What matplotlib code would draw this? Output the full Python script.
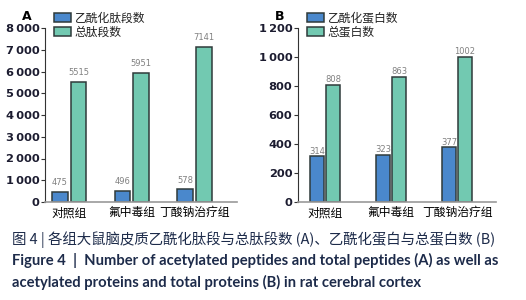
import matplotlib
matplotlib.use("Agg")
import matplotlib.pyplot as plt
from matplotlib.ticker import FuncFormatter
import numpy as np

plt.rcParams['font.family'] = ['Noto Sans CJK SC', 'DejaVu Sans']

groups = ['对照组', '氟中毒组', '丁酸钠治疗组']
acetyl_peptides = [475, 496, 578]
total_peptides = [5515, 5951, 7141]
acetyl_proteins = [314, 323, 377]
total_proteins = [808, 863, 1002]

blue = '#4a88cc'
green = '#72c9b1'
edge = '#2f3a3a'
W, H = 526, 300

fig = plt.figure(figsize=(W / 100, H / 100), dpi=100)


def thou(v, pos):
    v = int(round(v))
    if v >= 1000:
        return f"{v // 1000}\u2009{v % 1000:03d}"
    return str(v)


def panel(rect, a, b, ymax, step, labels, letter, bw, off, pad, xlim):
    ax = fig.add_axes([rect[0] / W, 1 - rect[3] / H, (rect[2] - rect[0]) / W,
                       (rect[3] - rect[1]) / H])
    x = np.arange(len(groups))
    r1 = ax.bar(x - off, a, bw, color=blue, edgecolor=edge, linewidth=1.1, label=labels[0])
    r2 = ax.bar(x + off, b, bw, color=green, edgecolor=edge, linewidth=1.1, label=labels[1])
    for rects, vals in ((r1, a), (r2, b)):
        for r, v in zip(rects, vals):
            ax.annotate(str(v), (r.get_x() + r.get_width() / 2, v), xytext=(0, pad),
                        textcoords='offset points', ha='center', va='bottom',
                        fontsize=6, color='#808080', family='DejaVu Sans')
    ax.set_ylim(0, ymax)
    ax.set_xlim(*xlim)
    ax.set_yticks(np.arange(0, ymax + 1, step))
    ax.yaxis.set_major_formatter(FuncFormatter(thou))
    for t in ax.get_yticklabels():
        t.set_fontweight('bold')
        t.set_fontsize(8.2)
        t.set_family('DejaVu Sans')
        t.set_color('#1c1c30')
    ax.tick_params(axis='y', length=3, width=0.8, color='#333333', pad=1)
    ax.set_xticks(x)
    ax.set_xticklabels(groups, fontsize=8.5)
    ax.tick_params(axis='x', length=0, pad=3)
    for s in ('top', 'right'):
        ax.spines[s].set_visible(False)
    ax.spines['left'].set_color('#333333')
    ax.spines['bottom'].set_color('#999999')
    ax.spines['bottom'].set_linewidth(1.2)
    leg = ax.legend(loc='upper left', bbox_to_anchor=(0.02, 1.12), frameon=False,
                    fontsize=8.5, handlelength=1.5, handleheight=0.8,
                    handletextpad=0.3, labelspacing=0.1, borderaxespad=0)
    for t in leg.get_texts():
        t.set_color('#222222')
    fig.text(rect[0] / W - 0.035, 1 - 17 / H, letter, fontsize=9, fontweight='bold',
             family='DejaVu Sans', ha='center', va='center')
    return ax


panel((45, 28, 237, 202), acetyl_peptides, total_peptides, 8000, 1000,
      ['乙酰化肽段数', '总肽段数'], 'A', 0.25, 0.15, 3.5, (-0.385, 2.68))
panel((298, 28, 496, 202), acetyl_proteins, total_proteins, 1200, 200,
      ['乙酰化蛋白数', '总蛋白数'], 'B', 0.21, 0.12, 0.5, (-0.41, 2.59))

cap = '#1d2b4a'
fig.text(12 / W, 1 - 240 / H, '图 4 | 各组大鼠脑皮质乙酰化肽段与总肽段数 (A)、乙酰化蛋白与总蛋白数 (B)',
         fontsize=10.4, color=cap, va='center', ha='left')
fig.text(12 / W, 1 - 260 / H, 'Figure 4  |  Number of acetylated peptides and total peptides (A) as well as',
         fontsize=10.6, color=cap, va='center', ha='left', fontweight='bold', family='Lato')
fig.text(12 / W, 1 - 282 / H, 'acetylated proteins and total proteins (B) in rat cerebral cortex',
         fontsize=10.6, color=cap, va='center', ha='left', fontweight='bold', family='Lato')

fig.savefig('out.png', dpi=100)
